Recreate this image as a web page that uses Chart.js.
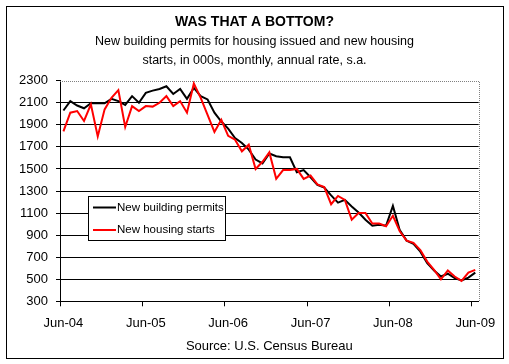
<!DOCTYPE html>
<html>
<head>
<meta charset="utf-8">
<script src="https://cdn.jsdelivr.net/npm/chart.js@4.4.0/dist/chart.umd.min.js"></script>
<style>
	body { margin: 0; background: #fff; }
	#wrap { width: 509px; height: 364px; }
</style>
</head>
<body>
<div id="wrap"><canvas id="chart" width="509" height="364"></canvas></div>
<script>
//month names used to build the category labels Jun-04 .. Jun-09
var monthNames = ["Jan","Feb","Mar","Apr","May","Jun","Jul","Aug","Sep","Oct","Nov","Dec"];
var months = [];
for( var k = 0; k < 61; k++ ){
	var m = (5 + k) % 12, y = 4 + Math.floor( (5 + k) / 12 );
	months.push( monthNames[m] + "-" + ( y < 10 ? "0" + y : y ) );
}

//new building permits, 000s, annual rate
var permits = [2030, 2115, 2075, 2050, 2095, 2095, 2095, 2135, 2115, 2080, 2160, 2100,
	2190, 2210, 2225, 2250, 2180, 2225, 2135, 2235, 2160, 2130, 2010, 1930,
	1865, 1780, 1735, 1675, 1585, 1550, 1640, 1615, 1605, 1605, 1470, 1490,
	1425, 1355, 1330, 1260, 1195, 1220, 1160, 1105, 1040, 985, 995, 985,
	1165, 945, 850, 820, 750, 645, 580, 525, 550, 510, 490, 515, 560];

//new housing starts, 000s, annual rate
var starts = [1840, 2010, 2025, 1935, 2085, 1795, 2040, 2145, 2215, 1880, 2070, 2025,
	2070, 2065, 2100, 2160, 2070, 2115, 2010, 2275, 2145, 1990, 1835, 1945,
	1800, 1765, 1660, 1720, 1500, 1565, 1650, 1410, 1490, 1490, 1500, 1410,
	1440, 1360, 1335, 1180, 1255, 1220, 1040, 1100, 1100, 1005, 1005, 980,
	1075, 935, 850, 830, 765, 660, 585, 500, 580, 525, 485, 560, 585];

var seriesNames = ["New building permits", "New housing starts"];
var seriesColors = ["#000000", "#ff0000"];
var yMin = 300, yMax = 2300, yStep = 200;

var FONT = "'Liberation Sans', Arial, sans-serif";
Chart.defaults.color = "#000";
Chart.defaults.font.family = FONT;

//outer frame, dotted plot border and the boxed legend
var framePlugin = {
	id: "frame",
	beforeDraw: function( chart ){
		var ctx = chart.ctx;
		ctx.save();
		ctx.fillStyle = "#fff";
		ctx.fillRect( 0, 0, chart.width, chart.height );
		ctx.strokeStyle = "#000";
		ctx.lineWidth = 1;
		ctx.strokeRect( 6.5, 6.5, 497, 352 );
		ctx.restore();
	},
	beforeDatasetsDraw: function( chart ){
		var ctx = chart.ctx, a = chart.chartArea;
		ctx.save();
		ctx.strokeStyle = "#808080";
		ctx.lineWidth = 1;
		ctx.setLineDash( [1, 1] );
		ctx.beginPath();
		ctx.moveTo( a.left, Math.round( a.top ) + 0.5 );
		ctx.lineTo( Math.round( a.right ) + 0.5, Math.round( a.top ) + 0.5 );
		ctx.lineTo( Math.round( a.right ) + 0.5, a.bottom );
		ctx.stroke();
		ctx.restore();
	},
	afterDatasetsDraw: function( chart ){
		var ctx = chart.ctx;
		ctx.save();
		ctx.fillStyle = "#fff";
		ctx.fillRect( 88.5, 196.5, 137, 44 );
		ctx.strokeStyle = "#000";
		ctx.lineWidth = 1;
		ctx.strokeRect( 88.5, 196.5, 137, 44 );
		ctx.font = "11.5px " + FONT;
		ctx.textBaseline = "middle";
		for( var i = 0; i < seriesNames.length; i++ ){
			var ly = 207.5 + i * 22.5;
			ctx.strokeStyle = seriesColors[i];
			ctx.lineWidth = 2;
			ctx.beginPath();
			ctx.moveTo( 93, ly );
			ctx.lineTo( 116, ly );
			ctx.stroke();
			ctx.fillStyle = "#000";
			ctx.fillText( seriesNames[i], 117, ly );
		}
		ctx.restore();
	}
};

var chart = new Chart( document.getElementById("chart").getContext("2d"), {
	type: "line",
	data: {
		labels: months,
		datasets: [{
			label: seriesNames[0],
			data: permits,
			borderColor: seriesColors[0],
			borderWidth: 2,
			pointRadius: 0,
			tension: 0,
			order: 1
		},{
			label: seriesNames[1],
			data: starts,
			borderColor: seriesColors[1],
			borderWidth: 2,
			pointRadius: 0,
			tension: 0,
			order: 0
		}]
	},
	options: {
		responsive: false,
		maintainAspectRatio: false,
		animation: false,
		layout: { padding: 0 },
		plugins: {
			legend: { display: false },
			tooltip: { enabled: false },
			title: {
				display: true,
				text: "WAS THAT A BOTTOM?",
				font: { size: 14, weight: "bold", family: FONT },
				padding: { top: 13.6, bottom: 1 }
			},
			subtitle: {
				display: true,
				text: [ "New building permits for housing issued and new housing",
					"starts, in 000s, monthly, annual rate, s.a." ],
				color: "#000",
				font: { size: 12.5, family: FONT, lineHeight: 1.56 },
				padding: { top: 0, bottom: 10.3 }
			}
		},
		scales: {
			x: {
				offset: true,
				afterFit: function( scale ){ scale.height = 62.7; },
				grid: {
					offset: true,
					drawOnChartArea: false,
					drawTicks: true,
					tickLength: 5,
					tickColor: function( c ){ return c.index % 12 === 0 ? "#000" : "rgba(0,0,0,0)"; }
				},
				border: { display: true, color: "#000", width: 1 },
				ticks: {
					autoSkip: false,
					maxRotation: 0,
					minRotation: 0,
					padding: 9,
					font: { size: 13 },
					callback: function( value, index ){ return index % 12 === 0 ? months[index] : ""; }
				},
				title: {
					display: true,
					text: "Source: U.S. Census Bureau",
					font: { size: 13 },
					padding: { top: 0, bottom: 10 }
				}
			},
			y: {
				min: yMin,
				max: yMax,
				afterFit: function( scale ){ scale.width = 60; },
				grid: {
					color: function( c ){ return c.tick && c.tick.value === yMax ? "rgba(0,0,0,0)" : "#000"; },
					tickColor: "#000",
					tickLength: 4,
					lineWidth: 1
				},
				border: { display: true, color: "#000", width: 1 },
				ticks: {
					stepSize: yStep,
					padding: 8,
					font: { size: 13 },
					callback: function( value ){ return String( value ); }
				}
			},
			//empty right-hand axis, only reserves the margin right of the plot
			yRight: {
				position: "right",
				display: true,
				afterFit: function( scale ){ scale.width = 30.3; },
				grid: { display: false },
				border: { display: false },
				ticks: { display: false }
			}
		}
	},
	plugins: [ framePlugin ]
});
</script>
</body>
</html>
